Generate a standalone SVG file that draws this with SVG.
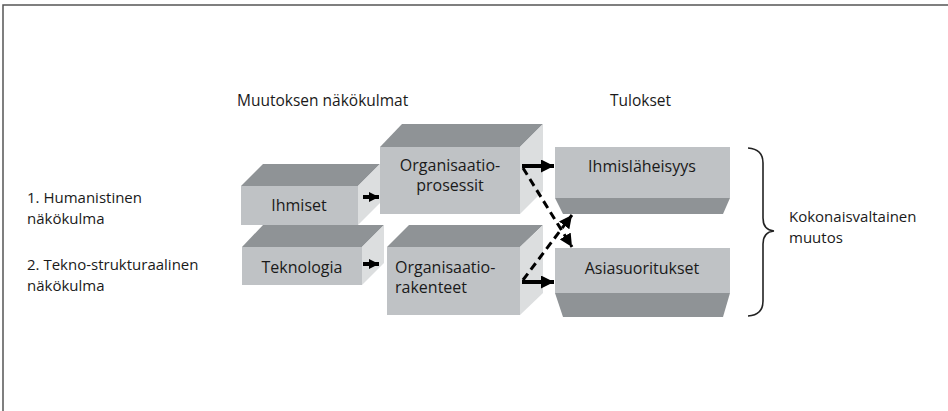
<svg xmlns="http://www.w3.org/2000/svg" width="948" height="411" viewBox="0 0 948 411">
  <style>
    text { font-family: "Open Sans", "Liberation Sans", Arial, sans-serif; fill: #1a1a1a; }
    .lbl { font-size: 15px; }
    .head { font-size: 15.5px; }
    .node { font-size: 16px; }
    .front { fill: #bfc2c5; }
    .top { fill: #8f9396; }
    .side { fill: #dcdedf; }
    .solid { stroke: #000; stroke-width: 4; fill: none; }
    .dash { stroke: #000; stroke-width: 3; fill: none; stroke-dasharray: 8 5; }
    .frame { stroke: #555; stroke-width: 1.5; fill: none; }
  </style>
  <defs>
    <marker id="head" viewBox="0 0 10 10" refX="10" refY="5" markerWidth="13" markerHeight="13" markerUnits="userSpaceOnUse" orient="auto">
      <path d="M0,0 L10,5 L0,10 z" fill="#000"/>
    </marker>
    <marker id="headSmall" viewBox="0 0 10 10" refX="10" refY="5" markerWidth="10" markerHeight="11" markerUnits="userSpaceOnUse" orient="auto">
      <path d="M0,0 L10,5 L0,10 z" fill="#000"/>
    </marker>
  </defs>

  <rect width="948" height="411" fill="#fff"/>
  <!-- frame: only the top and left edges fall inside the canvas -->
  <path class="frame" d="M3,411 L3,5 L948,5"/>

  <!-- column headings -->
  <text class="head" x="237" y="106">Muutoksen näkökulmat</text>
  <text class="head" x="610" y="106">Tulokset</text>

  <!-- row labels -->
  <text class="lbl" x="27" y="203">1. Humanistinen</text>
  <text class="lbl" x="27" y="224">näkökulma</text>
  <text class="lbl" x="27" y="270">2. Tekno-strukturaalinen</text>
  <text class="lbl" x="27" y="291">näkökulma</text>

  <g id="ihmiset">
    <polygon class="top" points="241,186 263,164 380,164 358,186"/>
    <polygon class="side" points="358,186 380,164 380,203 358,225"/>
    <rect class="front" x="241" y="186" width="117" height="39"/>
    <text class="node" x="299" y="211" text-anchor="middle">Ihmiset</text>
  </g>

  <g id="teknologia">
    <polygon class="top" points="242,247 263,225 384,225 362,247"/>
    <polygon class="side" points="362,247 384,225 384,263 362,285"/>
    <rect class="front" x="242" y="247" width="120" height="38"/>
    <text class="node" x="302" y="273" text-anchor="middle">Teknologia</text>
  </g>

  <g id="organisaatioprosessit">
    <polygon class="top" points="380,147 402,124 543,124 520,147"/>
    <polygon class="side" points="520,147 543,124 543,191 520,214"/>
    <rect class="front" x="380" y="147" width="140" height="67"/>
    <text class="node" x="450" y="171" text-anchor="middle">Organisaatio-</text>
    <text class="node" x="450" y="191" text-anchor="middle">prosessit</text>
  </g>

  <g id="organisaatiorakenteet">
    <polygon class="top" points="387,247 409,225 543,225 520,247"/>
    <polygon class="side" points="520,247 543,225 543,293 520,315"/>
    <rect class="front" x="387" y="247" width="133" height="68"/>
    <text class="node" x="395" y="273">Organisaatio-</text>
    <text class="node" x="395" y="293">rakenteet</text>
  </g>

  <g id="ihmislaheisyys">
    <rect class="front" x="555" y="147" width="175" height="51"/>
    <polygon class="top" points="555,198 730,198 723,214 563,214"/>
    <text class="node" x="642" y="172" text-anchor="middle">Ihmisläheisyys</text>
  </g>

  <g id="asiasuoritukset">
    <rect class="front" x="555" y="248" width="175" height="45"/>
    <polygon class="top" points="555,293 730,293 723,317 563,317"/>
    <text class="node" x="642" y="274" text-anchor="middle">Asiasuoritukset</text>
  </g>

  <g id="connectors">
    <line class="solid" x1="363" y1="197" x2="379" y2="197" marker-end="url(#headSmall)"/>
    <line class="solid" x1="363" y1="264" x2="379" y2="264" marker-end="url(#headSmall)"/>
    <line class="solid" x1="522" y1="166" x2="554" y2="166" marker-end="url(#head)"/>
    <line class="solid" x1="522" y1="282" x2="554" y2="282" marker-end="url(#head)"/>
    <line class="dash" x1="523" y1="168" x2="572" y2="247" marker-end="url(#head)"/>
    <line class="dash" x1="523" y1="280" x2="572" y2="215" marker-end="url(#head)"/>
  </g>

  <g id="brace">
    <path d="M748,148 Q763,149 763,163 L763,218 Q763,230 774,231 Q763,232 763,244 L763,301 Q763,315 748,316" fill="none" stroke="#222" stroke-width="1.6"/>
    <text class="lbl" x="789" y="222">Kokonaisvaltainen</text>
    <text class="lbl" x="789" y="243">muutos</text>
  </g>
</svg>
